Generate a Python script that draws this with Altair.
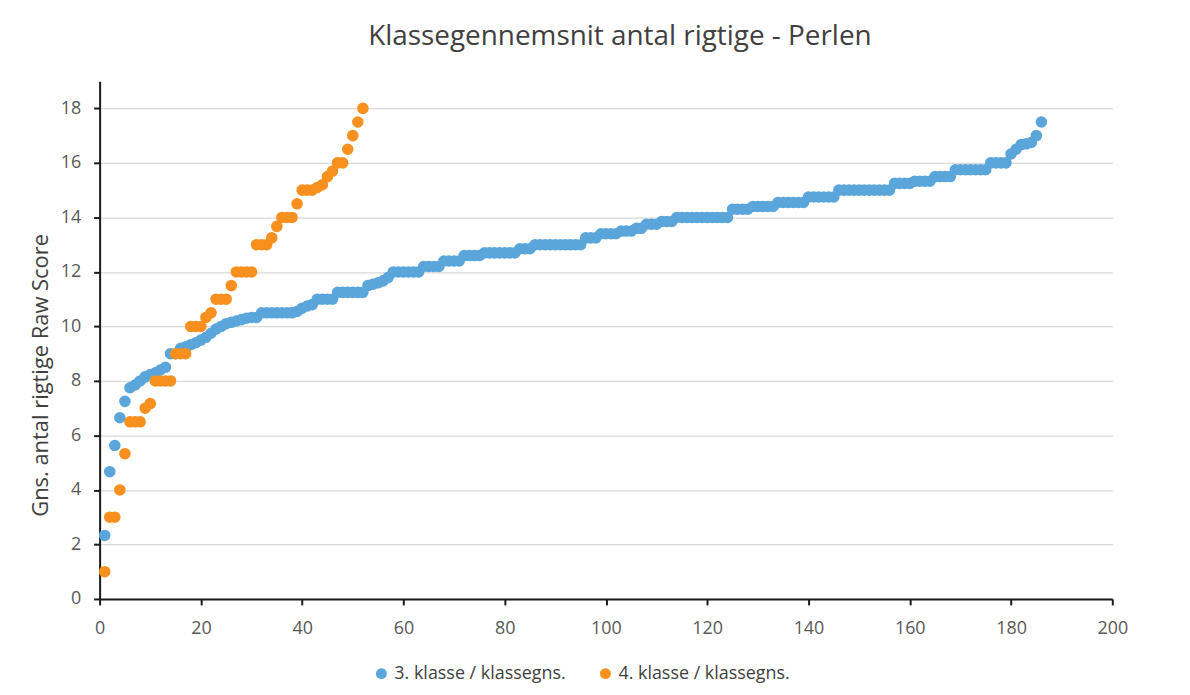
import altair as alt
import pandas as pd

series_names = ["3. klasse / klassegns.", "4. klasse / klassegns."]
series_colors = ["#5AA5DA", "#F7901E"]

klasse3 = [
    2.33, 4.67, 5.63, 6.65, 7.25, 7.75, 7.85, 8.0, 8.15, 8.23,
    8.3, 8.4, 8.5, 9.0, 9.0, 9.2, 9.25, 9.33, 9.4, 9.5,
    9.6, 9.75, 9.9, 10.0, 10.1, 10.15, 10.2, 10.25, 10.3, 10.33,
    10.33, 10.5, 10.5, 10.5, 10.5, 10.5, 10.5, 10.5, 10.55, 10.67,
    10.75, 10.8, 11.0, 11.0, 11.0, 11.0, 11.25, 11.25, 11.25, 11.25,
    11.25, 11.25, 11.5, 11.55, 11.6, 11.67, 11.8, 12.0, 12.0, 12.0,
    12.0, 12.0, 12.0, 12.2, 12.2, 12.2, 12.2, 12.4, 12.4, 12.4,
    12.4, 12.6, 12.6, 12.6, 12.6, 12.7, 12.7, 12.7, 12.7, 12.7,
    12.7, 12.7, 12.85, 12.85, 12.85, 13.0, 13.0, 13.0, 13.0, 13.0,
    13.0, 13.0, 13.0, 13.0, 13.0, 13.25, 13.25, 13.25, 13.4, 13.4,
    13.4, 13.4, 13.5, 13.5, 13.5, 13.6, 13.6, 13.75, 13.75, 13.75,
    13.85, 13.85, 13.85, 14.0, 14.0, 14.0, 14.0, 14.0, 14.0, 14.0,
    14.0, 14.0, 14.0, 14.0, 14.3, 14.3, 14.3, 14.3, 14.4, 14.4,
    14.4, 14.4, 14.4, 14.55, 14.55, 14.55, 14.55, 14.55, 14.55, 14.75,
    14.75, 14.75, 14.75, 14.75, 14.75, 15.0, 15.0, 15.0, 15.0, 15.0,
    15.0, 15.0, 15.0, 15.0, 15.0, 15.0, 15.25, 15.25, 15.25, 15.25,
    15.33, 15.33, 15.33, 15.33, 15.5, 15.5, 15.5, 15.5, 15.75, 15.75,
    15.75, 15.75, 15.75, 15.75, 15.75, 16.0, 16.0, 16.0, 16.0, 16.33,
    16.5, 16.67, 16.7, 16.75, 17.0, 17.5,
]

klasse4 = [
    1.0, 3.0, 3.0, 4.0, 5.33, 6.5, 6.5, 6.5, 7.0, 7.17,
    8.0, 8.0, 8.0, 8.0, 9.0, 9.0, 9.0, 10.0, 10.0, 10.0,
    10.33, 10.5, 11.0, 11.0, 11.0, 11.5, 12.0, 12.0, 12.0, 12.0,
    13.0, 13.0, 13.0, 13.25, 13.67, 14.0, 14.0, 14.0, 14.5, 15.0,
    15.0, 15.0, 15.1, 15.2, 15.5, 15.7, 16.0, 16.0, 16.5, 17.0,
    17.5, 18.0,
]

x_ticks = [0, 20, 40, 60, 80, 100, 120, 140, 160, 180, 200]
y_ticks = [0, 2, 4, 6, 8, 10, 12, 14, 16, 18]

rows = []
for i, v in enumerate(klasse3):
    rows.append({"n": i + 1, "score": v, "serie": series_names[0]})
for i, v in enumerate(klasse4):
    rows.append({"n": i + 1, "score": v, "serie": series_names[1]})
df = pd.DataFrame(rows)

FONT = "Open Sans"

chart = (
    alt.Chart(df)
    .mark_circle(size=135, opacity=1)
    .encode(
        x=alt.X(
            "n:Q",
            scale=alt.Scale(domain=[0, 200], nice=False),
            axis=alt.Axis(values=x_ticks, title=None, grid=False, labelPadding=15,
                          labelFlush=False),
        ),
        y=alt.Y(
            "score:Q",
            scale=alt.Scale(domain=[0, 19], nice=False),
            axis=alt.Axis(values=y_ticks, title="Gns. antal rigtige Raw Score",
                          grid=True, labelPadding=13, titlePadding=8, titleY=295,
                          labelFlush=False),
        ),
        color=alt.Color(
            "serie:N",
            scale=alt.Scale(domain=series_names, range=series_colors),
            legend=alt.Legend(
                title=None, orient="none", direction="horizontal",
                legendX=274, legendY=586, symbolType="circle", symbolSize=120,
                labelFontSize=18, labelFont=FONT, labelColor="#404040",
                columnPadding=30, labelLimit=300,
            ),
        ),
        order=alt.Order("serie:N"),
    )
    .properties(
        width=1017,
        height=520,
        title=alt.TitleParams(
            "Klassegennemsnit antal rigtige - Perlen",
            fontSize=28, font=FONT, fontWeight="normal", color="#404040",
            anchor="middle", offset=30, dx=14,
        ),
        autosize=alt.AutoSizeParams(type="none"),
        padding={"left": 92, "top": 72, "right": 70, "bottom": 95},
    )
    .configure_view(stroke=None)
    .configure_axis(
        labelFont=FONT, labelFontSize=18, labelColor="#595959",
        titleFont=FONT, titleFontSize=22, titleColor="#404040", titleFontWeight="normal",
        domainColor="#1a1a1a", domainWidth=2, tickColor="#1a1a1a", tickWidth=2,
        tickSize=6, gridColor="#D9D9D9", gridWidth=1.2,
    )
)

chart.save("out.html", embed_options={"renderer": "svg", "actions": False})
